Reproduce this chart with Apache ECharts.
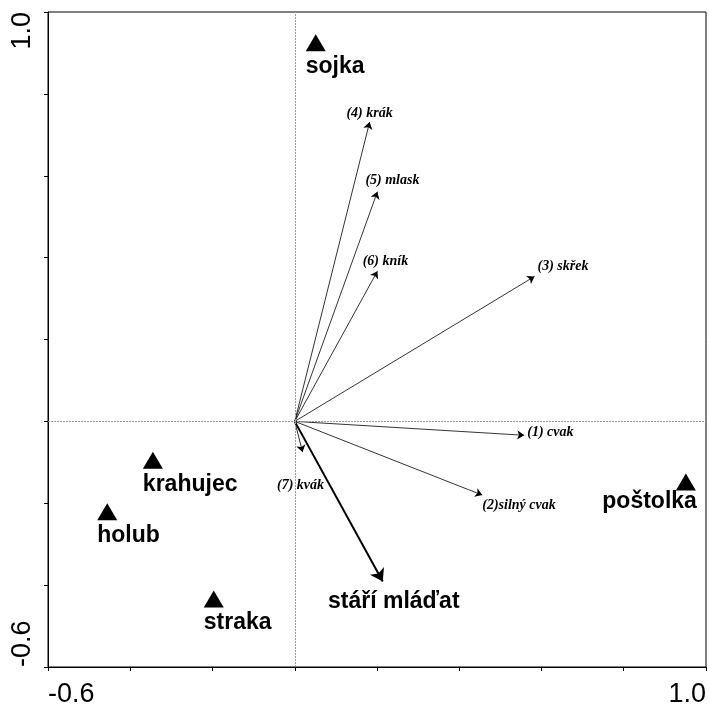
<!DOCTYPE html>
<html>
<head>
<meta charset="utf-8">
<script src="https://cdn.jsdelivr.net/npm/echarts@6/dist/echarts.min.js"></script>
<style>
  html, body { margin: 0; padding: 0; background: #fff; }
  #chart { width: 709px; height: 708px; }
</style>
</head>
<body>
<div id="chart"></div>
<script>
// druhy (species scores)
var speciesNames = ['sojka', 'krahujec', 'holub', 'straka', 'poštolka'];
var speciesX = [0.051, -0.345, -0.456, -0.197, 0.951];
var speciesY = [0.925, -0.095, -0.221, -0.434, -0.148];

// hlasy (response variables)
var varNames = ['(1) cvak', '(2)silný cvak', '(3) skřek', '(4) krák', '(5) mlask', '(6) kník', '(7) kvák'];
var varX = [0.558, 0.456, 0.583, 0.182, 0.201, 0.201, 0.019];
var varY = [-0.034, -0.180, 0.354, 0.731, 0.561, 0.367, -0.075];

// prediktor
var envNames = ['stáří mláďat'];
var envX = [0.214];
var envY = [-0.391];

var tickLabels = [-0.6, 1.0];

// label offsets (px) for the arrow labels
var varLabelStyle = [
    { offset: [3, -3], align: 'left' },
    { offset: [0, 10], align: 'left' },
    { offset: [3, -10], align: 'left' },
    { offset: [0, -9], align: 'center' },
    { offset: [15, -11], align: 'center' },
    { offset: [8, -10], align: 'center' },
    { offset: [-2, 33], align: 'center' }
];

var chartDom = document.getElementById('chart');
var myChart = echarts.init(chartDom);
var option;

var showTick = function (v) {
    return tickLabels.some(function (t) { return Math.abs(t - v) < 1e-6; }) ? v.toFixed(1) : '';
};

var axisCommon = {
    type: 'value',
    min: -0.6,
    max: 1.0,
    interval: 0.2,
    axisLine: { onZero: false, lineStyle: { color: '#000', width: 1 } },
    axisTick: { show: true, length: 4, lineStyle: { color: '#000' } },
    splitLine: { show: false },
    axisLabel: {
        formatter: showTick,
        color: '#000',
        fontSize: 27,
        fontFamily: 'Liberation Sans, Arial, sans-serif',
        alignMinLabel: 'left',
        alignMaxLabel: 'right'
    }
};

option = {
    animation: false,
    backgroundColor: '#fff',
    grid: {
        left: 48, top: 12, right: 2, bottom: 37,
        show: true, borderColor: '#000', borderWidth: 1, backgroundColor: 'transparent'
    },
    xAxis: echarts.util.merge({ axisLabel: { margin: 14 } }, axisCommon, true),
    yAxis: echarts.util.merge({ axisLabel: { rotate: 90, margin: 12 } }, axisCommon, true),
    series: [
        {
            // osy nula
            type: 'scatter',
            data: [],
            silent: true,
            markLine: {
                silent: true,
                symbol: 'none',
                label: { show: false },
                lineStyle: { color: '#999', type: [2, 1], width: 1 },
                data: [{ xAxis: 0 }, { yAxis: 0 }]
            }
        },
        {
            name: 'hlasy',
            type: 'lines',
            coordinateSystem: 'cartesian2d',
            symbol: ['none', 'arrow'],
            symbolSize: 7,
            lineStyle: { color: '#000', width: 0.8, opacity: 1 },
            data: varX.map(function (x, i) { return { coords: [[0, 0], [x, varY[i]]] }; })
        },
        {
            name: 'prediktor',
            type: 'lines',
            coordinateSystem: 'cartesian2d',
            symbol: ['none', 'arrow'],
            symbolSize: 12,
            lineStyle: { color: '#000', width: 2, opacity: 1 },
            data: envX.map(function (x, i) { return { coords: [[0, 0], [x, envY[i]]] }; })
        },
        {
            name: 'hlasy popisky',
            type: 'scatter',
            symbolSize: 0,
            silent: true,
            itemStyle: { opacity: 1 },
            data: varX.map(function (x, i) {
                return {
                    value: [x, varY[i]],
                    label: {
                        show: true,
                        formatter: varNames[i],
                        position: 'inside',
                        offset: varLabelStyle[i].offset,
                        align: varLabelStyle[i].align,
                        verticalAlign: 'middle',
                        color: '#000',
                        fontSize: 14,
                        fontStyle: 'italic',
                        fontWeight: 'bold',
                        fontFamily: 'Liberation Serif, Times New Roman, serif'
                    }
                };
            })
        },
        {
            name: 'prediktor popisek',
            type: 'scatter',
            symbolSize: 0,
            silent: true,
            itemStyle: { opacity: 1 },
            data: envX.map(function (x, i) {
                return {
                    value: [x, envY[i]],
                    label: {
                        show: true,
                        formatter: envNames[i],
                        position: 'inside',
                        offset: [11, 20],
                        align: 'center',
                        verticalAlign: 'middle',
                        color: '#000',
                        fontSize: 23,
                        fontWeight: 'bold',
                        fontFamily: 'Liberation Sans, Arial, sans-serif'
                    }
                };
            })
        },
        {
            name: 'druhy',
            type: 'scatter',
            symbol: 'triangle',
            symbolSize: [20, 17],
            itemStyle: { color: '#000', opacity: 1 },
            data: speciesX.map(function (x, i) {
                var right = i === 4;
                return {
                    value: [x, speciesY[i]],
                    label: {
                        show: true,
                        formatter: speciesNames[i],
                        position: 'inside',
                        offset: right ? [11, 20] : [-10, 24],
                        align: right ? 'right' : 'left',
                        verticalAlign: 'middle',
                        color: '#000',
                        fontSize: 23,
                        fontWeight: 'bold',
                        fontFamily: 'Liberation Sans, Arial, sans-serif'
                    }
                };
            })
        }
    ]
};

option && myChart.setOption(option);
</script>
</body>
</html>
